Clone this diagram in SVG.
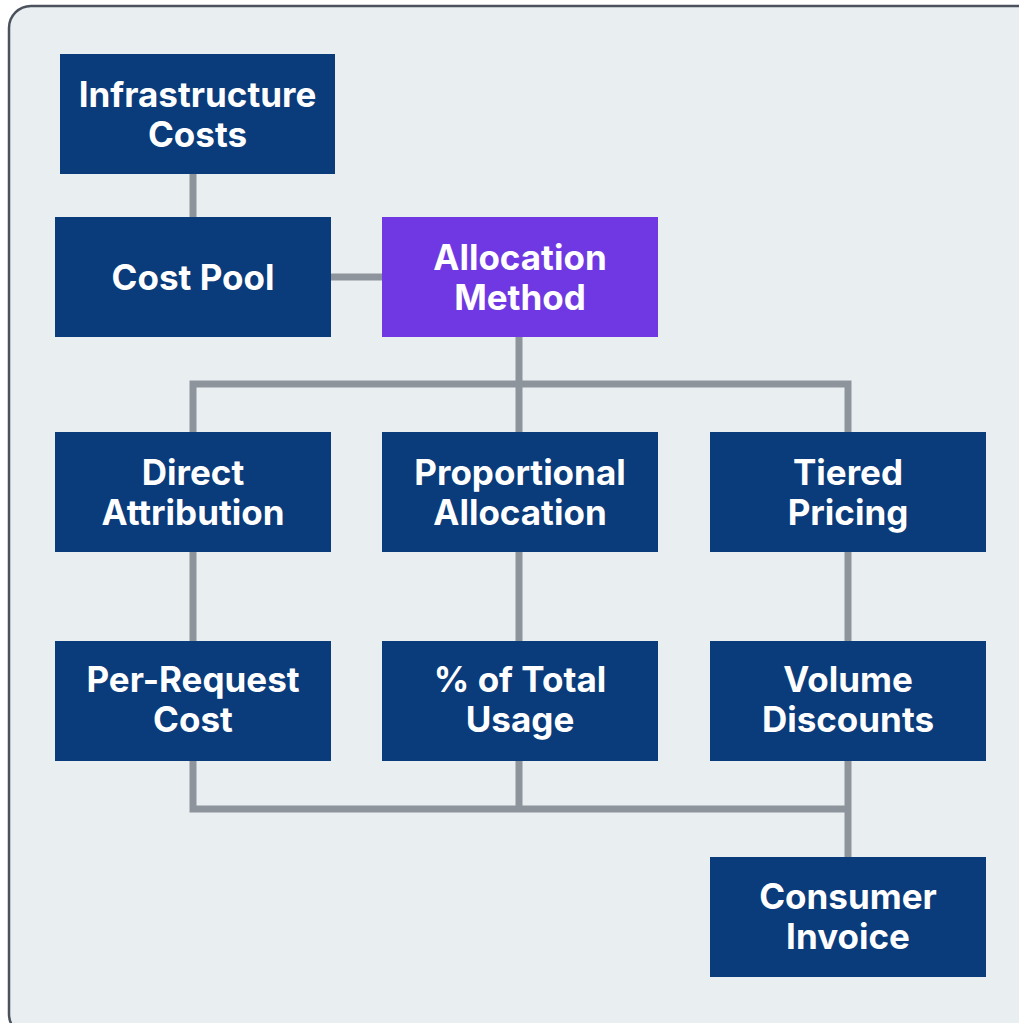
<svg xmlns="http://www.w3.org/2000/svg" width="1019" height="1023" viewBox="0 0 1019 1023">
  <defs>
    <style>
      .node { fill: #0a3b7b; }
      .accent { fill: #7038e2; }
      .label { font-family: Inter, "Liberation Sans", sans-serif; font-weight: 700; font-size: 35px; fill: #ffffff; text-anchor: middle; }
      .wire { fill: none; stroke: #8e949b; stroke-width: 7; stroke-linecap: butt; stroke-linejoin: miter; }
    </style>
  </defs>

  <!-- backdrop panel -->
  <rect x="0" y="0" width="1019" height="1023" fill="#ffffff"/>
  <rect x="9" y="6" width="1030" height="1030" rx="22" ry="22" fill="#e9eef0" stroke="#4b525d" stroke-width="2.5"/>

  <!-- connectors -->
  <g id="connectors" class="wire">
    <path d="M193 174 V217"/>
    <path d="M331 277 H382"/>
    <path d="M519 337 V385"/>
    <path d="M193 432 V384 H848 V432"/>
    <path d="M519 384 V432"/>
    <path d="M193 552 V641"/>
    <path d="M519 552 V641"/>
    <path d="M848 552 V641"/>
    <path d="M193 761 V809 H848"/>
    <path d="M519 761 V809"/>
    <path d="M848 761 V857"/>
  </g>

  <g id="infrastructure-costs">
    <rect class="node" x="60" y="54" width="275" height="120"/>
    <text class="label" x="197.5" y="107">Infrastructure</text>
    <text class="label" x="197.5" y="147">Costs</text>
  </g>

  <g id="cost-pool">
    <rect class="node" x="55" y="217" width="276" height="120"/>
    <text class="label" x="193" y="290">Cost Pool</text>
  </g>

  <g id="allocation-method">
    <rect class="accent" x="382" y="217" width="276" height="120"/>
    <text class="label" x="520" y="270">Allocation</text>
    <text class="label" x="520" y="310">Method</text>
  </g>

  <g id="direct-attribution">
    <rect class="node" x="55" y="432" width="276" height="120"/>
    <text class="label" x="193" y="485">Direct</text>
    <text class="label" x="193" y="525">Attribution</text>
  </g>

  <g id="proportional-allocation">
    <rect class="node" x="382" y="432" width="276" height="120"/>
    <text class="label" x="520" y="485">Proportional</text>
    <text class="label" x="520" y="525">Allocation</text>
  </g>

  <g id="tiered-pricing">
    <rect class="node" x="710" y="432" width="276" height="120"/>
    <text class="label" x="848" y="485">Tiered</text>
    <text class="label" x="848" y="525">Pricing</text>
  </g>

  <g id="per-request-cost">
    <rect class="node" x="55" y="641" width="276" height="120"/>
    <text class="label" x="193" y="692">Per-Request</text>
    <text class="label" x="193" y="732">Cost</text>
  </g>

  <g id="percent-of-total-usage">
    <rect class="node" x="382" y="641" width="276" height="120"/>
    <text class="label" x="520" y="692">% of Total</text>
    <text class="label" x="520" y="732">Usage</text>
  </g>

  <g id="volume-discounts">
    <rect class="node" x="710" y="641" width="276" height="120"/>
    <text class="label" x="848" y="692">Volume</text>
    <text class="label" x="848" y="732">Discounts</text>
  </g>

  <g id="consumer-invoice">
    <rect class="node" x="710" y="857" width="276" height="120"/>
    <text class="label" x="848" y="909">Consumer</text>
    <text class="label" x="848" y="949">Invoice</text>
  </g>
</svg>
